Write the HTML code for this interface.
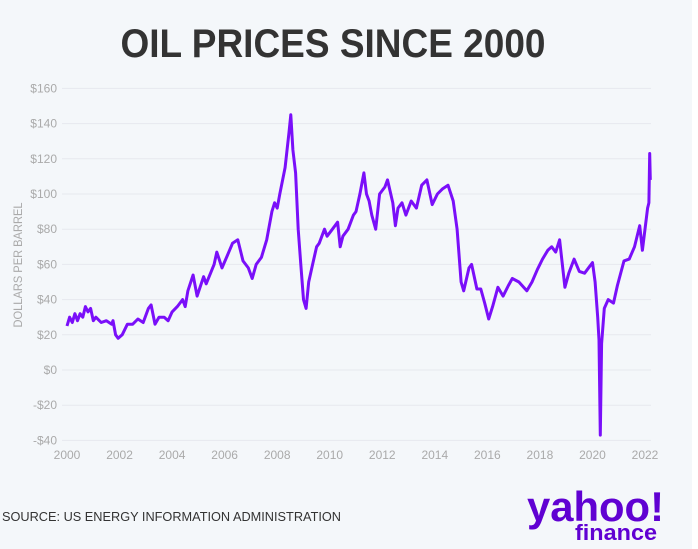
<!DOCTYPE html>
<html><head><meta charset="utf-8"><style>
body{margin:0;background:#fff;}
#c{position:relative;width:698px;height:549px;background:#f4f7fa;overflow:hidden;font-family:"Liberation Sans",sans-serif;}
</style></head><body>
<div id="c">
<svg id="s" width="698" height="549">
<rect x="692" y="0" width="6" height="549" fill="#ffffff"/>
<text x="333" y="57" text-anchor="middle" font-size="40" font-weight="bold" fill="#333" textLength="425" lengthAdjust="spacingAndGlyphs">OIL PRICES SINCE 2000</text>
<text transform="translate(22,265) rotate(-90)" text-anchor="middle" font-size="12" fill="#aaa" textLength="125" lengthAdjust="spacingAndGlyphs">DOLLARS PER BARREL</text>
<g id="grid"></g><g id="yl"></g><g id="xl"></g>
<path id="line" fill="none" stroke="#7a0ff9" stroke-width="3" stroke-linejoin="round"/>
<text x="2" y="521" font-size="13" fill="#333" textLength="339" lengthAdjust="spacingAndGlyphs">SOURCE: US ENERGY INFORMATION ADMINISTRATION</text>
<text x="527" y="521" font-size="42" font-weight="bold" fill="#6001d2" textLength="137" lengthAdjust="spacingAndGlyphs">yahoo!</text>
<text x="575" y="540" font-size="22" font-weight="bold" fill="#6001d2" textLength="82" lengthAdjust="spacingAndGlyphs">finance</text>
</svg>
</div>
<script>
const yTicks=[160,140,120,100,80,60,40,20,0,-20,-40];
const xTicks=[2000,2002,2004,2006,2008,2010,2012,2014,2016,2018,2020,2022];
const years=[2000.0,2000.1,2000.2,2000.3,2000.4,2000.5,2000.6,2000.7,2000.8,2000.9,2001.0,2001.1,2001.3,2001.5,2001.7,2001.75,2001.85,2001.95,2002.1,2002.3,2002.5,2002.7,2002.9,2003.1,2003.2,2003.35,2003.5,2003.7,2003.85,2004.0,2004.2,2004.4,2004.5,2004.6,2004.8,2004.95,2005.2,2005.3,2005.6,2005.7,2005.9,2006.1,2006.3,2006.5,2006.7,2006.9,2007.05,2007.2,2007.4,2007.6,2007.8,2007.9,2008.0,2008.1,2008.3,2008.45,2008.52,2008.6,2008.7,2008.8,2008.9,2009.0,2009.1,2009.2,2009.35,2009.5,2009.6,2009.8,2009.9,2010.1,2010.3,2010.4,2010.5,2010.7,2010.9,2011.0,2011.15,2011.3,2011.4,2011.5,2011.6,2011.75,2011.9,2012.1,2012.2,2012.4,2012.5,2012.6,2012.75,2012.9,2013.1,2013.3,2013.5,2013.7,2013.9,2014.1,2014.3,2014.5,2014.7,2014.85,2015.0,2015.1,2015.3,2015.4,2015.6,2015.75,2015.9,2016.05,2016.2,2016.4,2016.6,2016.8,2016.95,2017.2,2017.5,2017.7,2017.9,2018.1,2018.3,2018.45,2018.6,2018.75,2018.95,2019.1,2019.3,2019.5,2019.7,2019.9,2020.0,2020.1,2020.2,2020.25,2020.3,2020.35,2020.45,2020.6,2020.8,2020.95,2021.2,2021.4,2021.6,2021.8,2021.9,2022.0,2022.1,2022.15,2022.18,2022.2];
const prices=[25,30,27,32,28,32,30,36,33,35,28,30,27,28,26,28,20,18,20,26,26,29,27,35,37,26,30,30,28,33,36,40,36,45,54,42,53,49,60,67,58,65,72,74,62,58,52,60,64,74,90,95,92,100,115,135,145,125,112,80,60,40,35,50,60,70,72,80,76,80,84,70,76,80,88,90,100,112,100,96,88,80,100,104,108,95,82,92,95,88,96,92,105,108,94,100,103,105,96,80,50,45,58,60,46,46,38,29,36,47,42,48,52,50,45,50,57,63,68,70,67,74,47,55,63,56,55,59,61,50,30,17,-37,15,35,40,38,48,62,63,70,82,68,80,92,95,123,108];
const x=v=>67+(v-2000)*(578/22);
const y=v=>370-v*(35.2/20);
const NS="http://www.w3.org/2000/svg";
const grid=document.getElementById('grid'),yl=document.getElementById('yl'),xl=document.getElementById('xl');
yTicks.forEach(t=>{
 const l=document.createElementNS(NS,'line');
 l.setAttribute('x1',62);l.setAttribute('x2',651);l.setAttribute('y1',y(t));l.setAttribute('y2',y(t));
 l.setAttribute('stroke','#e6e9ee');l.setAttribute('stroke-width','1');
 
 
 grid.appendChild(l);
 const tx=document.createElementNS(NS,'text');
 tx.setAttribute('x',57);tx.setAttribute('y',y(t)+4);tx.setAttribute('text-anchor','end');
 tx.setAttribute('font-size','12');tx.setAttribute('fill','#aaa');
 tx.textContent=(t<0?'-$':'$')+Math.abs(t);
 
 
 yl.appendChild(tx);
});
xTicks.forEach(t=>{
 const tx=document.createElementNS(NS,'text');
 tx.setAttribute('x',x(t));tx.setAttribute('y',459);tx.setAttribute('text-anchor','middle');
 tx.setAttribute('font-size','12');tx.setAttribute('fill','#aaa');
 tx.textContent=t;
 
 
 xl.appendChild(tx);
});
document.getElementById('line').setAttribute('d',years.map((v,i)=>(i?'L':'M')+x(v).toFixed(1)+','+y(prices[i]).toFixed(1)).join(''));
</script>
</body></html>
